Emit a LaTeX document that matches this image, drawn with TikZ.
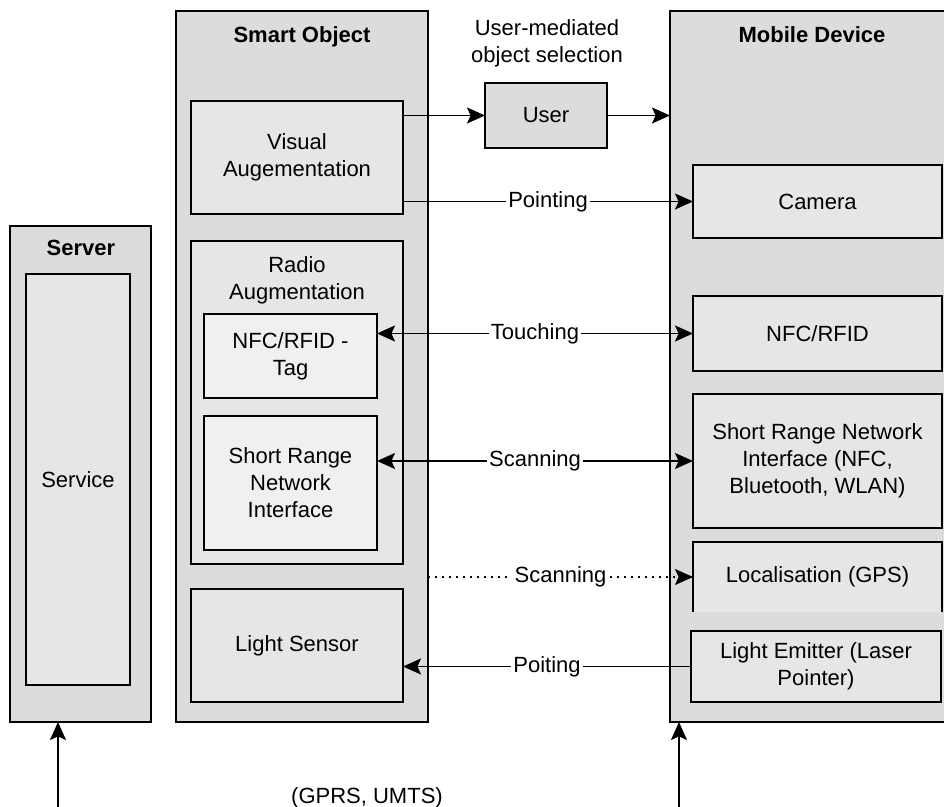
\documentclass[tikz,border=0pt]{standalone}
\usepackage{fontspec}
\setmainfont{Liberation Sans}
\usetikzlibrary{arrows.meta}
\definecolor{outerg}{HTML}{DCDCDC}
\definecolor{innerg}{HTML}{E6E6E6}
\definecolor{innerl}{HTML}{F0F0F0}
\begin{document}
\begin{tikzpicture}[x=0.5pt, y=-0.5pt,
  txt/.style={font=\fontsize{11}{13.5}\selectfont, align=center},
  wh/.style n args={2}{minimum width=#1, minimum height=#2},
  obox/.style={draw, line width=1pt, fill=outerg, inner sep=0pt, outer sep=0pt, txt},
  ibox/.style={draw, line width=1pt, fill=innerg, inner sep=0pt, outer sep=0pt, txt},
  lbox/.style={draw, line width=1pt, fill=innerl, inner sep=0pt, outer sep=0pt, txt},
  tip/.tip={Stealth[length=9pt,width=8pt,inset=1.8pt]},
  arr/.style={line width=0.95pt, -tip},
  barr/.style={line width=0.95pt, tip-tip},
  lab/.style={fill=white, inner sep=1pt, txt},
  ttl/.style={txt, anchor=base, inner sep=0pt}]
\useasboundingbox (0,0) rectangle (944,807);
\clip (0,0) rectangle (944,807);

% outer containers
\node[obox, wh={126pt}{355.5pt}] (so) at (302,366.5) {};
\node[obox, wh={70.5pt}{248pt}] (srv) at (80.5,474) {};
\node[obox, wh={142pt}{355.5pt}] (md) at (812,366.5) {};

\node[ttl] (sot) at (302,43) {\bfseries Smart Object};
\node[ttl] (srvt) at (81,256) {\bfseries Server};
\node[ttl] (mdt) at (812,43) {\bfseries Mobile Device};

% server
\node[ibox, wh={52pt}{205.5pt}] (svc) at (78,479.5) {Service};

% smart object
\node[ibox, wh={106pt}{56.5pt}] (va) at (297,157.5) {Visual\\Augementation};
\node[ibox, wh={106pt}{161.5pt}] (ra) at (297,402.5) {};
\node[ttl] (rat) at (297,273) {Radio};
\node[ttl] (rat2) at (297,300) {Augmentation};
\node[lbox, wh={86.5pt}{42pt}] (tag) at (290.5,356) {NFC/RFID -\\Tag};
\node[lbox, wh={86.5pt}{67pt}] (srn) at (290.5,483) {Short Range\\Network\\Interface};
\node[ibox, wh={106pt}{56.5pt}] (ls) at (297,645.5) {Light Sensor};

% user
\node[ttl] (um1) at (547,36) {User-mediated};
\node[ttl] (um2) at (547,63) {object selection};
\node[obox, wh={61pt}{32.5pt}] (user) at (546,115.5) {User};

% mobile device
\node[ibox, wh={124.5pt}{36.5pt}] (cam) at (817.5,201.5) {Camera};
\node[ibox, wh={124.5pt}{37.5pt}] (nfc) at (817.5,333.5) {NFC/RFID};
\node[ibox, wh={124.5pt}{67pt}] (srm) at (817.5,461) {Short Range Network\\Interface (NFC,\\Bluetooth, WLAN)};
\node[fill=innerg, inner sep=0pt, outer sep=0pt, txt, wh={124.5pt}{35pt}] (loc) at (817.5,577) {Localisation (GPS)};
\draw[line width=1pt] (loc.south west) -- (loc.north west) -- (loc.north east) -- (loc.south east);
\node[ibox, wh={125pt}{35.5pt}] (le) at (816,666.5) {Light Emitter (Laser\\Pointer)};

% connectors
\draw[arr] (va.east |- user) -- (user.west);
\draw[arr] (user.east) -- (user -| md.west);
\draw[arr] (va.east |- cam) -- node[lab] {Pointing} (cam.west);
\draw[barr] (tag.east |- nfc) -- node[lab] {Touching} (nfc.west);
\draw[barr] (srn.east |- srm) -- node[lab] {Scanning} (srm.west);
\draw[arr, dash pattern=on 1pt off 2.5pt] (so.east |- loc) -- node[lab, inner sep=2pt] {Scanning} (loc.west);
\draw[arr] (le.west) -- node[lab] {Poiting} (ls.east |- le);

% bottom
\coordinate (b1) at (58,812);
\coordinate (b2) at (679,812);
\draw[arr] (b1) -- (b1 |- srv.south);
\draw[arr] (b2) -- (b2 |- md.south);
\node[ttl] (gprs) at (367,804) {(GPRS, UMTS)};
\end{tikzpicture}
\end{document}
